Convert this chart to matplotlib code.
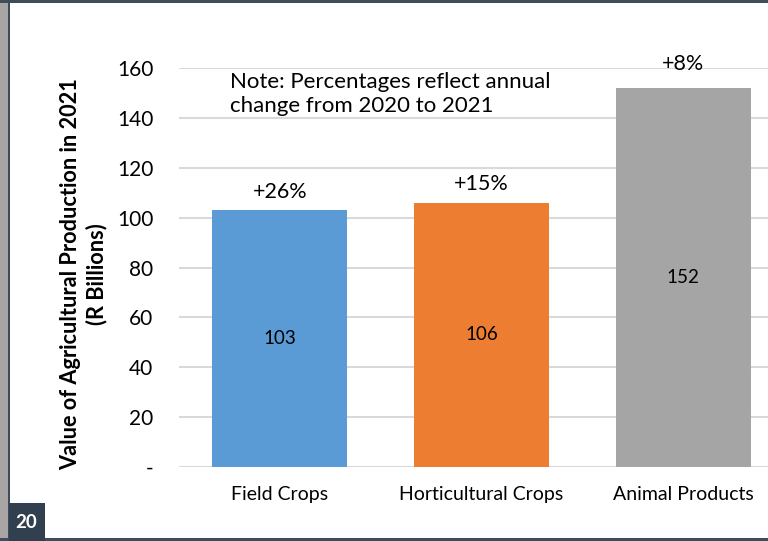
import matplotlib.pyplot as plt
from matplotlib.patches import Rectangle

categories = ["Field Crops", "Horticultural Crops", "Animal Products"]
values = [103, 106, 152]
changes = ["+26%", "+15%", "+8%"]
colors = ["#5B9BD5", "#ED7D31", "#A5A5A5"]
yticks = [0, 20, 40, 60, 80, 100, 120, 140, 160]
ytick_labels = ["-", "20", "40", "60", "80", "100", "120", "140", "160"]
page_number = "20"

plt.rcParams["font.family"] = ["Lato", "DejaVu Sans"]

W, H = 768, 541
fig = plt.figure(figsize=(W / 100, H / 100), dpi=100)

def px(x0, y0, x1, y1):
    return [x0 / W, 1 - y1 / H, (x1 - x0) / W, (y1 - y0) / H]

# slide frame decorations
fig.patches.append(Rectangle((0, 0), 8 / W, 1, transform=fig.transFigure,
                             facecolor="#A9A5A4", edgecolor="none", zorder=0))
fig.patches.append(Rectangle((8 / W, 0), 2 / W, 1, transform=fig.transFigure,
                             facecolor="#3E4C5C", edgecolor="none", zorder=1))
fig.patches.append(Rectangle((0, 1 - 3 / H), 1, 3 / H, transform=fig.transFigure,
                             facecolor="#3E4C5C", edgecolor="none", zorder=1))
fig.patches.append(Rectangle((0, 0), 1, 3 / H, transform=fig.transFigure,
                             facecolor="#3E4C5C", edgecolor="none", zorder=1))
fig.patches.append(Rectangle((9 / W, 0), 36 / W, 38 / H, transform=fig.transFigure,
                             facecolor="#323F4F", edgecolor="none", zorder=2))
fig.text(26 / W, 1 - 522 / H, page_number, color="white", fontsize=13.5,
         fontweight="bold", ha="center", va="center")

ax = fig.add_axes(px(179, 68, 784, 467))
x = list(range(len(categories)))
bars = ax.bar(x, values, width=0.67, color=colors, zorder=3)
ax.set_xlim(-0.5, len(categories) - 0.5)
ax.set_ylim(0, 160)
ax.set_yticks(yticks)
ax.set_yticklabels(ytick_labels, fontsize=15)
ax.set_xticks(x)
ax.set_xticklabels(categories, fontsize=14)
ax.tick_params(axis="y", length=0, pad=18.5)
ax.tick_params(axis="x", length=0, pad=14)
for s in ax.spines.values():
    s.set_visible(False)
ax.grid(axis="y", color="#D9D9D9", linewidth=1.5, zorder=0)
ax.set_axisbelow(True)

# the animal-products change label sits higher above its bar
label_gap = [6, 6, 10]
for xi, v, c, g in zip(x, values, changes, label_gap):
    ax.text(xi, v / 2, f"{v}", ha="center", va="center", fontsize=13.5, zorder=4)
    ax.annotate(c, (xi, v), xytext=(0, g), textcoords="offset points",
                ha="center", va="bottom", fontsize=15.5,
                annotation_clip=False, zorder=4)

fig.text(230 / W, 1 - 94 / H, "Note: Percentages reflect annual\nchange from 2020 to 2021",
         fontsize=16, va="center", ha="left", linespacing=1.3)
fig.text(84 / W, 1 - 274 / H,
         "Value of Agricultural Production in 2021\n(R Billions)",
         rotation=90, ha="center", va="center", fontsize=15.7,
         fontweight="bold", linespacing=1.25)

fig.savefig("out.png", dpi=100)
